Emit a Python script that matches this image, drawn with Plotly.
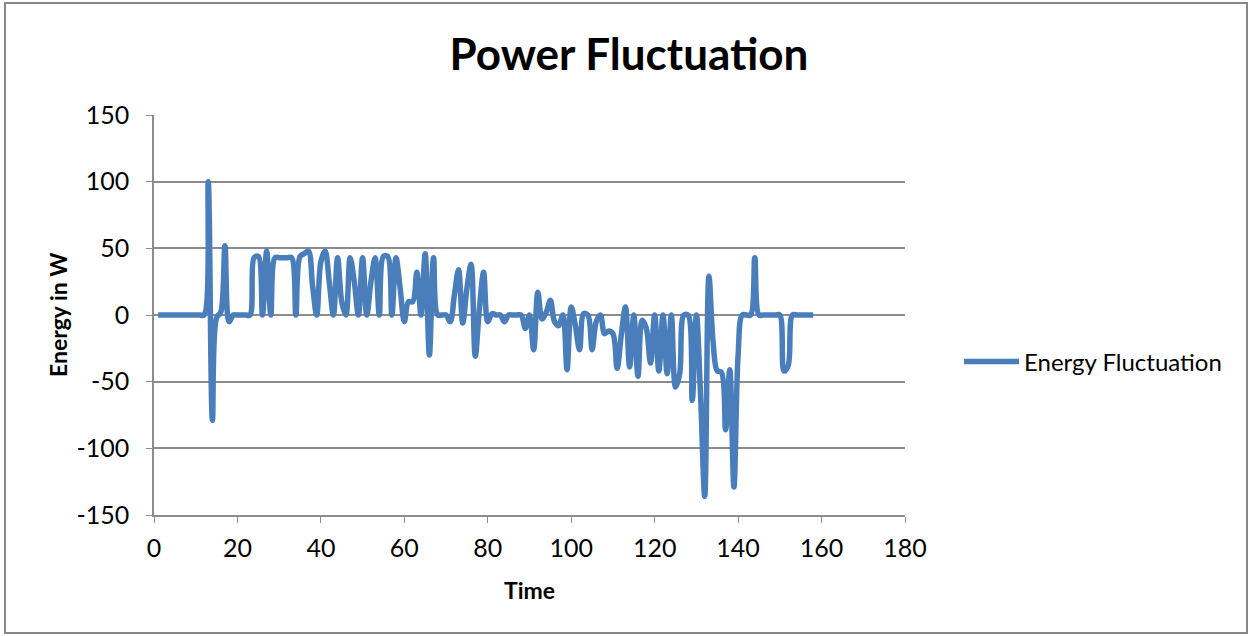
import plotly.graph_objects as go

# Time steps and the measured energy fluctuation at each step
time = list(range(1, 159))
energy = [
    0, 0, 0, 0, 0, 0, 0, 0, 0, 0, 0, 0,          # 1-12
    100, -79, -2, 2, 52, -5, 0, 0, 0, 0, 0,       # 13-23
    43, 44, 0, 48, 0, 43, 43, 43, 43, 43, 0,      # 24-34
    44, 46, 48, 22, 0, 40, 48, 25, 0, 43,         # 35-44
    10, 0, 43, 25, 0, 43, 0, 25, 43, 0,           # 45-54
    44, 44, 0, 43, 20, -5, 10, 10, 32, 0,         # 55-64
    46, -30, 43, 0, 0, 0, -5, 15, 34, -6,         # 65-74
    20, 38, -31, 5, 32, -5, 1, 0, 0, -5,          # 75-84
    0, 0, 0, 0, -10, 0, -26, 17, -3, 2,           # 85-94
    11, -5, -8, 0, -41, 6, -8, -26, 1, 0,         # 95-104
    -26, -5, 0, -14, -12, -14, -40, -15, 6, -39,  # 105-114
    0, -46, -4, -10, -36, 0, -42, 0, -44, 0,      # 115-124
    -54, -44, 0, 0, -64, 0, -60, -136, 29, -20,   # 125-134
    -42, -43, -86, -41, -129, -30, 0, 0, 0, 43,   # 135-144
    0, 0, 0, 0, 0, 0, -42, -38, 0, 0,             # 145-154
    0, 0, 0, 0,                                   # 155-158
]

x_ticks = [0, 20, 40, 60, 80, 100, 120, 140, 160, 180]
y_ticks = [-150, -100, -50, 0, 50, 100, 150]
y_tick_text = ["-150", "-100", "-50", "0", "50", "100", "150"]

W, H = 1251, 636
ML, MR, MT, MB = 154, 346, 115, 121
PW, PH = W - ML - MR, H - MT - MB

FONT = "Lato"
GRID = "#8c8c8c"

fig = go.Figure()
fig.add_trace(go.Scatter(
    x=time, y=energy, mode="lines", name="Energy Fluctuation",
    line=dict(color="#4A7EBB", width=5.5, shape="spline", smoothing=1.0),
))


def px_x(p):
    return (p - ML) / PW


def px_y(p):
    return (H - MB - p) / PH


fig.update_layout(
    width=W, height=H,
    margin=dict(l=ML, r=MR, t=MT, b=MB, pad=0),
    paper_bgcolor="white", plot_bgcolor="white",
    font=dict(family=FONT, size=25, color="black"),
    title=dict(text="<b>Power Fluctuation</b>", x=629 / W, xanchor="center",
               y=1 - 55 / H, yanchor="middle",
               font=dict(family=FONT, size=44, color="black")),
    xaxis=dict(range=[0, 180], tickvals=x_ticks, showgrid=False, zeroline=False,
               showline=True, linecolor=GRID, linewidth=1.5,
               ticks="outside", ticklen=6, tickcolor=GRID, ticklabelstandoff=4,
               tickfont=dict(size=25), fixedrange=True),
    yaxis=dict(range=[-150, 150], tickvals=y_ticks, ticktext=y_tick_text,
               showgrid=True, gridcolor=GRID,
               gridwidth=1.5, zeroline=False, showline=True, linecolor=GRID,
               linewidth=1.5, ticks="outside", ticklen=6, tickcolor=GRID,
               ticklabelstandoff=12,
               tickfont=dict(size=25), fixedrange=True),
    showlegend=True,
    legend=dict(x=px_x(959), y=px_y(362), xanchor="left", yanchor="middle",
                font=dict(size=24), itemwidth=55, bgcolor="rgba(0,0,0,0)"),
    shapes=[dict(type="rect", xref="paper", yref="paper",
                 x0=px_x(5), x1=px_x(1247), y0=px_y(633), y1=px_y(3),
                 line=dict(color="#888888", width=2), layer="below")],
    annotations=[
        dict(text="<b>Time</b>", xref="paper", yref="paper", x=px_x(529), y=px_y(590),
             xanchor="center", yanchor="middle", showarrow=False,
             font=dict(size=23)),
        dict(text="<b>Energy in W</b>", xref="paper", yref="paper", x=px_x(58), y=px_y(315),
             xanchor="center", yanchor="middle", showarrow=False, textangle=-90,
             font=dict(size=23)),
    ],
)

fig.write_html("out.html")
